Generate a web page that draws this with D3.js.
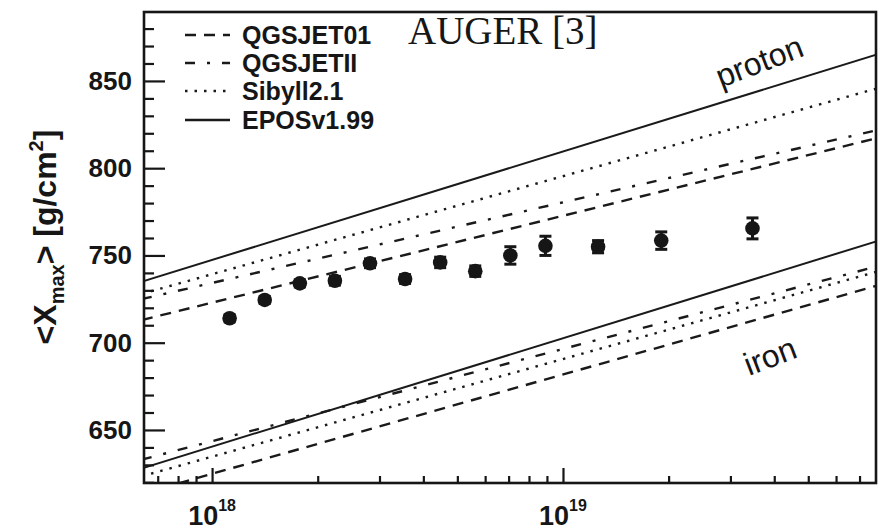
<!DOCTYPE html>
<html>
<head>
<meta charset="utf-8">
<script src="https://cdn.jsdelivr.net/npm/d3@7/dist/d3.min.js"></script>
<style>
  body { margin: 0; background: #fff; }
  svg text { font-family: "Liberation Sans", Arial, Helvetica, sans-serif; fill: #161616; }
</style>
</head>
<body>
<svg id="chart" width="881" height="532"></svg>
<script>
// Auger <Xmax> points, lg(E/eV)
const energies = [18.05, 18.15, 18.25, 18.35, 18.45, 18.55, 18.65, 18.75, 18.85, 18.95, 19.1, 19.28, 19.54];
const xmaxMean = [714, 724.5, 734, 735.5, 745.5, 736.5, 746, 741, 750, 755.5, 755, 758.5, 765.5];
const xmaxErr  = [2, 2, 2, 2.5, 2.5, 2.5, 3, 3, 5, 5.5, 3.5, 5, 6];

// model predictions, straight lines between lg E = 17.8 and 19.9
const models = ["QGSJET01", "QGSJETII", "Sibyll2.1", "EPOSv1.99"];
const lineLgE = [17.8, 19.9];
const protonStart = [713, 725, 728, 735];
const protonEnd   = [817.5, 822, 846, 865.5];
const ironStart   = [613.5, 633, 623.5, 628];
const ironEnd     = [733, 744, 741, 758.5];

const yMajor = [650, 700, 750, 800, 850];
const xMajorExp = [18, 19];

const dashes = ["11,8", "10,12,3,12", "2.5,7", null];

const svg = d3.select('#chart');
const pL = 144, pR = 876, pT = 12, pB = 483;

const x = d3.scaleLog().domain([10 ** 17.806, 10 ** 19.892]).range([pL, pR]);
const y = d3.scaleLinear().domain([619.6, 889.5]).range([pB, pT]);

svg.append('clipPath').attr('id', 'plotclip')
  .append('rect').attr('x', pL).attr('y', pT)
  .attr('width', pR - pL).attr('height', pB - pT);

const plot = svg.append('g').attr('clip-path', 'url(#plotclip)');

// prediction lines
const line = d3.line().x(d => x(10 ** d[0])).y(d => y(d[1]));
models.forEach((m, i) => {
  [[protonStart[i], protonEnd[i]], [ironStart[i], ironEnd[i]]].forEach(ends => {
    plot.append('path')
      .datum(lineLgE.map((e, k) => [e, ends[k]]))
      .attr('d', line)
      .attr('fill', 'none')
      .attr('stroke', '#1a1a1a')
      .attr('stroke-width', i === 3 ? 2 : 2.4)
      .attr('stroke-dasharray', dashes[i]);
  });
});

// data points with error bars
const pts = energies.map((e, i) => ({ e: e, v: xmaxMean[i], err: xmaxErr[i] }));
const bars = plot.append('g').attr('stroke', '#161616').attr('stroke-width', 3);
pts.forEach(d => {
  const cx = x(10 ** d.e);
  bars.append('line').attr('x1', cx).attr('x2', cx)
    .attr('y1', y(d.v - d.err)).attr('y2', y(d.v + d.err));
  [d.v - d.err, d.v + d.err].forEach(v => {
    bars.append('line').attr('x1', cx - 6).attr('x2', cx + 6)
      .attr('y1', y(v)).attr('y2', y(v));
  });
});
plot.append('g').selectAll('circle')
  .data(pts).enter().append('circle')
  .attr('cx', d => x(10 ** d.e))
  .attr('cy', d => y(d.v))
  .attr('r', 7.3)
  .attr('fill', '#161616');

// axes, ticks pointing inside
const yMinor = d3.range(620, 890, 10).filter(v => !yMajor.includes(v));
svg.append('g').attr('transform', `translate(${pL},0)`)
  .call(d3.axisLeft(y).tickValues(yMinor).tickSize(-10).tickFormat(''))
  .call(g => g.select('.domain').remove());
svg.append('g').attr('transform', `translate(${pL},0)`)
  .call(d3.axisLeft(y).tickValues(yMajor).tickSize(-21).tickPadding(12))
  .call(g => g.select('.domain').remove())
  .call(g => g.selectAll('text').attr('font-size', 26).attr('font-weight', 'bold')
    .attr('font-family', null));

const xMinor = [];
[17, 18, 19].forEach(p => d3.range(2, 10).forEach(k => xMinor.push(k * 10 ** p)));
const xDom = x.domain();
svg.append('g').attr('transform', `translate(0,${pB})`)
  .call(d3.axisBottom(x).tickValues(xMinor.filter(v => v > xDom[0] && v < xDom[1]))
    .tickSize(-7).tickFormat(''))
  .call(g => g.select('.domain').remove());
svg.append('g').attr('transform', `translate(0,${pB})`)
  .call(d3.axisBottom(x).tickValues(xMajorExp.map(p => 10 ** p)).tickSize(-15).tickFormat(''))
  .call(g => g.select('.domain').remove());
svg.selectAll('.tick line').attr('stroke', '#161616').attr('stroke-width', 2.2);

xMajorExp.forEach(p => {
  const t = svg.append('text')
    .attr('x', x(10 ** p)).attr('y', 525)
    .attr('text-anchor', 'middle')
    .attr('font-size', 27).attr('font-weight', 'bold');
  t.append('tspan').text('10');
  t.append('tspan').attr('dy', -14).attr('font-size', 16).text(p);
});

// frame
svg.append('rect')
  .attr('x', pL).attr('y', pT)
  .attr('width', pR - pL).attr('height', pB - pT)
  .attr('fill', 'none').attr('stroke', '#161616').attr('stroke-width', 2.6);

// y axis title
const yt = svg.append('text')
  .attr('transform', 'translate(56,237) rotate(-90)')
  .attr('text-anchor', 'middle')
  .attr('font-size', 32).attr('font-weight', 'bold');
yt.append('tspan').text('<X');
yt.append('tspan').attr('dy', 8).attr('font-size', 20).text('max');
yt.append('tspan').attr('dy', -8).text('> [g/cm');
yt.append('tspan').attr('dy', -13).attr('font-size', 20).text('2');
yt.append('tspan').attr('dy', 13).text(']');

// legend
const legRows = [35, 63, 91, 120];
models.forEach((m, i) => {
  svg.append('line')
    .attr('x1', 185).attr('x2', 230)
    .attr('y1', legRows[i]).attr('y2', legRows[i])
    .attr('stroke', '#1a1a1a').attr('stroke-width', 2.4)
    .attr('stroke-dasharray', dashes[i]);
  svg.append('text')
    .attr('x', 242).attr('y', legRows[i] + 8.5)
    .attr('font-size', 25).attr('font-weight', 'bold')
    .text(m);
});

// title and composition labels
svg.append('text')
  .attr('x', 408).attr('y', 44)
  .style('font-family', '"Liberation Serif", "Times New Roman", serif')
  .attr('font-size', 39)
  .text('AUGER [3]');

svg.append('text')
  .attr('transform', 'translate(721,88) rotate(-21)')
  .attr('font-size', 32)
  .text('proton');
svg.append('text')
  .attr('transform', 'translate(749,376) rotate(-21)')
  .attr('font-size', 32)
  .text('iron');
</script>
</body>
</html>
